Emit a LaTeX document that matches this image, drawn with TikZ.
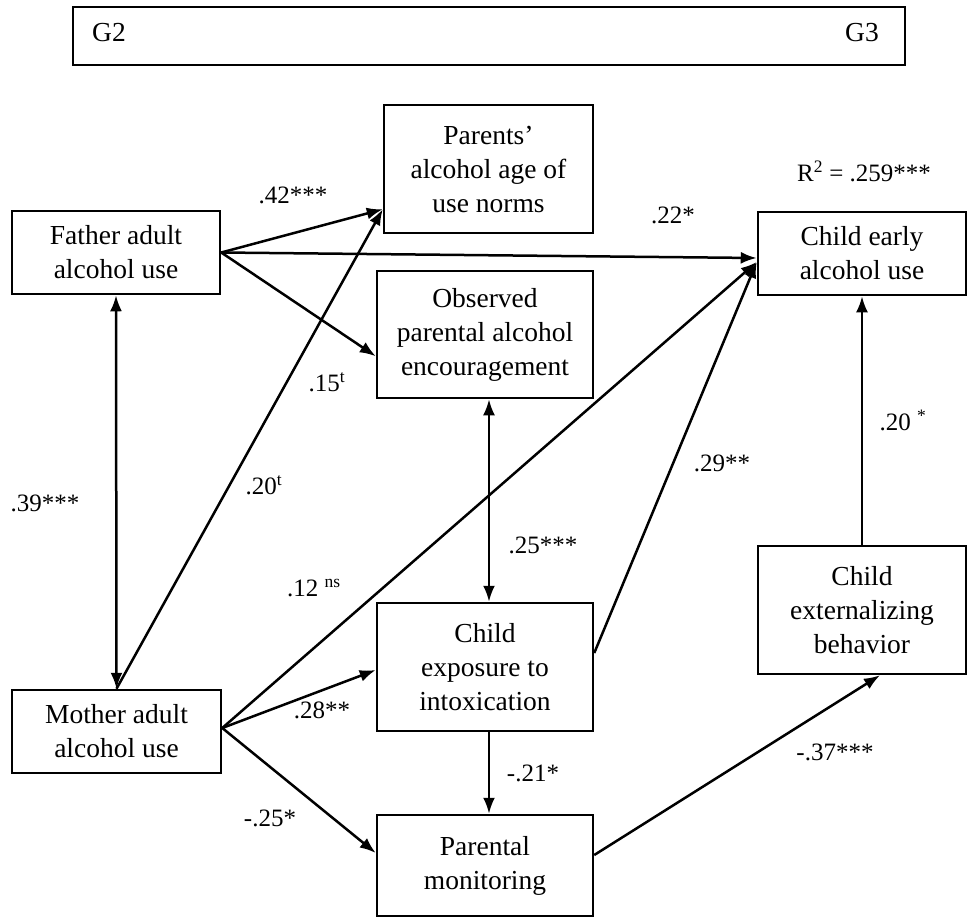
\documentclass[tikz,border=0pt]{standalone}
\usepackage{fontspec}
\setmainfont{Liberation Serif}
\usetikzlibrary{arrows.meta}
\begin{document}
\begin{tikzpicture}[x=1pt,y=-1pt,
  box/.style={draw, line width=2.5pt, rectangle, inner sep=0pt, align=center, font=\fontsize{27.5}{34}\selectfont},
  lbl/.style={inner sep=0pt, font=\fontsize{25}{30}\selectfont},
  conn/.style={line width=2.5pt, -{Latex[length=16pt,width=12pt]}},
  dconn/.style={line width=2.5pt, {Latex[length=16pt,width=12pt]}-{Latex[length=16pt,width=12pt]}}]
\useasboundingbox (0,0) rectangle (967,919);
% header
\node[box, minimum width=832, minimum height=58] (hdr) at (489,36) {};
\node[lbl, font=\fontsize{27.5}{34}\selectfont] (g2) at (109,33) {G2};
\node[lbl, font=\fontsize{27.5}{34}\selectfont] (g3) at (862,33) {G3};
% boxes
\node[box, minimum width=208, minimum height=83] (fa) at (116,252.5) {Father adult\\alcohol use};
\node[box, minimum width=209, minimum height=128] (par) at (488.5,169) {Parents’\\alcohol age of\\use norms};
\node[box, minimum width=216, minimum height=127] (obs) at (485,334.5) {Observed\\parental alcohol\\encouragement};
\node[box, minimum width=208, minimum height=83] (ce) at (862,253.5) {Child early\\alcohol use};
\node[box, minimum width=209, minimum height=83] (mo) at (116.5,731.5) {Mother adult\\alcohol use};
\node[box, minimum width=216, minimum height=128] (ex) at (485,667) {Child\\exposure to\\intoxication};
\node[box, minimum width=216, minimum height=101] (mon) at (485,865.5) {Parental\\monitoring};
\node[box, minimum width=208, minimum height=128] (ext) at (862,610) {Child\\externalizing\\behavior};
% R2
\node[lbl] (r2) at (864,171) {R\textsuperscript{2} = .259***};
% connectors
\draw[conn] (fa.east) -- ([yshift=25]par.south west);
\draw[conn] (fa.east) -- ([yshift=43]obs.south west);
\draw[conn] (fa.east) -- ([yshift=-4.5]ce.west);
\draw[dconn] (fa.south) -- (mo.north);
\draw[conn] (mo.north) -- ([yshift=25]par.south west);
\draw[conn] ([yshift=3.5]mo.east) -- ([yshift=-8.5]ce.west);
\draw[conn] ([yshift=3.5]mo.east) -- ([yshift=-3]ex.west);
\draw[conn] ([yshift=3.5]mo.east) -- ([yshift=12.5]mon.west);
\draw[dconn] ([xshift=4]obs.south) -- ([xshift=4]ex.north);
\draw[conn] ([xshift=4]ex.south) -- ([xshift=4]mon.north);
\draw[conn] ([yshift=14]ex.east) -- ([yshift=-8.5]ce.west);
\draw[conn] (ext.north) -- (ce.south);
\draw[conn] ([yshift=10.5]mon.east) -- ([xshift=18]ext.south);
% labels
\node[lbl] (l42) at (293,195) {.42***};
\node[lbl] (l15) at (327,382) {.15\textsuperscript{t}};
\node[lbl] (l22) at (673,215) {.22*};
\node[lbl] (l39) at (45,503) {.39***};
\node[lbl] (l20t) at (264,485) {.20\textsuperscript{t}};
\node[lbl] (l12) at (314,588) {.12 \textsuperscript{ns}};
\node[lbl] (l28) at (322,710) {.28**};
\node[lbl] (l25m) at (270,818) {-.25*};
\node[lbl] (l25) at (543,545) {.25***};
\node[lbl] (l21) at (533,773) {-.21*};
\node[lbl] (l29) at (722,463) {.29**};
\node[lbl] (l20) at (903,420) {.20 \textsuperscript{*}};
\node[lbl] (l37) at (835,752) {-.37***};
\end{tikzpicture}
\end{document}
